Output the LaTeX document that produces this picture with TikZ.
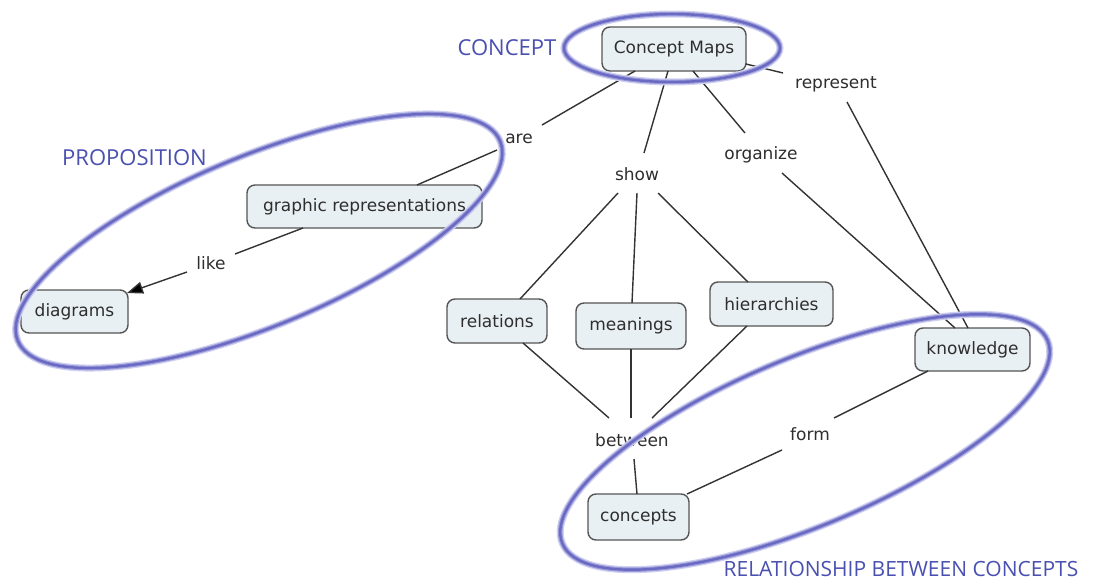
\documentclass[tikz,border=0pt]{standalone}
\usepackage{fontspec}
\setmainfont{DejaVu Sans}
\newfontfamily\labelfont{Open Sans}
\usetikzlibrary{arrows.meta}
\definecolor{boxfill}{HTML}{E9F0F4}
\definecolor{boxline}{HTML}{555555}
\definecolor{linkline}{HTML}{333333}
\definecolor{txt}{HTML}{2E2E2E}
\definecolor{ringblue}{HTML}{6A6AC2}
\definecolor{ringmid}{HTML}{9A9ADA}
\definecolor{ringglow}{HTML}{D0D1F0}
\definecolor{titleblue}{HTML}{4A50B0}
\tikzset{
  cbox/.style={draw=boxline, line width=1.4pt, fill=boxfill, rounded corners=8pt,
    minimum height=44pt, inner sep=0pt, text=txt, font=\fontsize{17}{19}\selectfont},
  phrase/.style={inner sep=0pt, text=txt, font=\fontsize{17}{19}\selectfont},
  title/.style={inner sep=0pt, text=titleblue, font=\labelfont\fontsize{22}{25}\selectfont},
  conn/.style={draw=linkline, line width=1.4pt},
  ringglowst/.style={draw=ringglow, line width=7pt},
  ringmidst/.style={draw=ringmid, line width=4.5pt},
  ringst/.style={draw=ringblue, line width=2.4pt}
}
\begin{document}
\begin{tikzpicture}[x=1pt,y=-1pt]
\useasboundingbox[fill=white] (0,0) rectangle (1093,581);
% concept boxes
\node[cbox, minimum width=144pt] (cm) at (674,49) {Concept Maps};
\node[cbox, minimum width=235pt, minimum height=43pt] (gr) at (364.5,206.5) {graphic representations};
\node[cbox, minimum width=107pt, minimum height=43pt] (dia) at (74.5,311.5) {diagrams};
\node[cbox, minimum width=100pt] (rel) at (497,321) {relations};
\node[cbox, minimum width=110pt, minimum height=46pt] (mea) at (631,326) {meanings};
\node[cbox, minimum width=123pt] (hie) at (771.5,304) {hierarchies};
\node[cbox, minimum width=101pt, minimum height=46pt] (con) at (638.5,517) {concepts};
\node[cbox, minimum width=115pt, minimum height=43pt] (kno) at (972.5,349.5) {knowledge};
% linking phrases
\node[phrase] (are) at (519,139) {are};
\node[phrase] (show) at (637,174) {show};
\node[phrase] (org) at (761,155) {organize};
\node[phrase] (rep) at (836,84) {represent};
\node[phrase] (like) at (211,263) {like};
\node[phrase] (betw) at (632,440) {between};
\node[phrase] (form) at (810,434) {form};
% connectors
\draw[conn] ([shift={(-39,22)}]cm.center) -- ([shift={(23,-14)}]are.center);
\draw[conn] ([shift={(-22,11)}]are.center) -- ([shift={(52.5,-21.5)}]gr.center);
\draw[conn] ([shift={(-6,22)}]cm.center) -- ([shift={(7,-21)}]show.center);
\draw[conn] ([shift={(19,22)}]cm.center) -- ([shift={(-16,-22)}]org.center);
\draw[conn] ([shift={(72,15)}]cm.center) -- ([shift={(-53,-11)}]rep.center);
\draw[conn] ([shift={(11,18)}]rep.center) -- ([shift={(-4.5,-21.5)}]kno.center);
\draw[conn] ([shift={(21,18)}]org.center) -- ([shift={(-17.5,-21.5)}]kno.center);
\draw[conn] ([shift={(-19,19)}]show.center) -- ([shift={(23,-22)}]rel.center);
\draw[conn] ([shift={(0,19)}]show.center) -- ([shift={(1,-23)}]mea.center);
\draw[conn] ([shift={(21,19)}]show.center) -- ([shift={(-23.5,-22)}]hie.center);
\draw[conn] ([shift={(26,22)}]rel.center) -- ([shift={(-23,-22)}]betw.center);
\draw[conn] ([shift={(0,23)}]mea.center) -- ([shift={(-1,-22)}]betw.center);
\draw[conn] ([shift={(-24.5,22)}]hie.center) -- ([shift={(20,-22)}]betw.center);
\draw[conn] ([shift={(2,19)}]betw.center) -- ([shift={(-1.5,-23)}]con.center);
\draw[conn] ([shift={(-44.5,21.5)}]kno.center) -- ([shift={(24,-16)}]form.center);
\draw[conn] ([shift={(-28,16)}]form.center) -- ([shift={(48.5,-23)}]con.center);
\draw[conn] ([shift={(-61.5,21.5)}]gr.center) -- ([shift={(24,-9)}]like.center);
\draw[conn, -{Triangle[length=16pt,width=12pt,fill=black]}] ([shift={(-24,9)}]like.center) -- ([shift={(52.5,-18.5)}]dia.center);
% rings
\coordinate (ringA) at (672,48);
\coordinate (ringB) at (259,241);
\coordinate (ringC) at (805,442);
\foreach \st in {ringglowst,ringmidst,ringst}{
  \draw[\st] (ringA) ellipse [x radius=108, y radius=34];
  \draw[\st, rotate around={22.5:(ringB)}] (ringB) ellipse [x radius=261, y radius=85];
  \draw[\st, rotate around={22.7:(ringC)}] (ringC) ellipse [x radius=263, y radius=84];
}
% titles
\node[title] (tconcept) at (507,48) {CONCEPT};
\node[title] (tprop) at (134.5,158) {PROPOSITION};
\node[title, font=\labelfont\fontsize{21}{24}\selectfont] (trel) at (901,569) {RELATIONSHIP BETWEEN CONCEPTS};
\end{tikzpicture}
\end{document}
